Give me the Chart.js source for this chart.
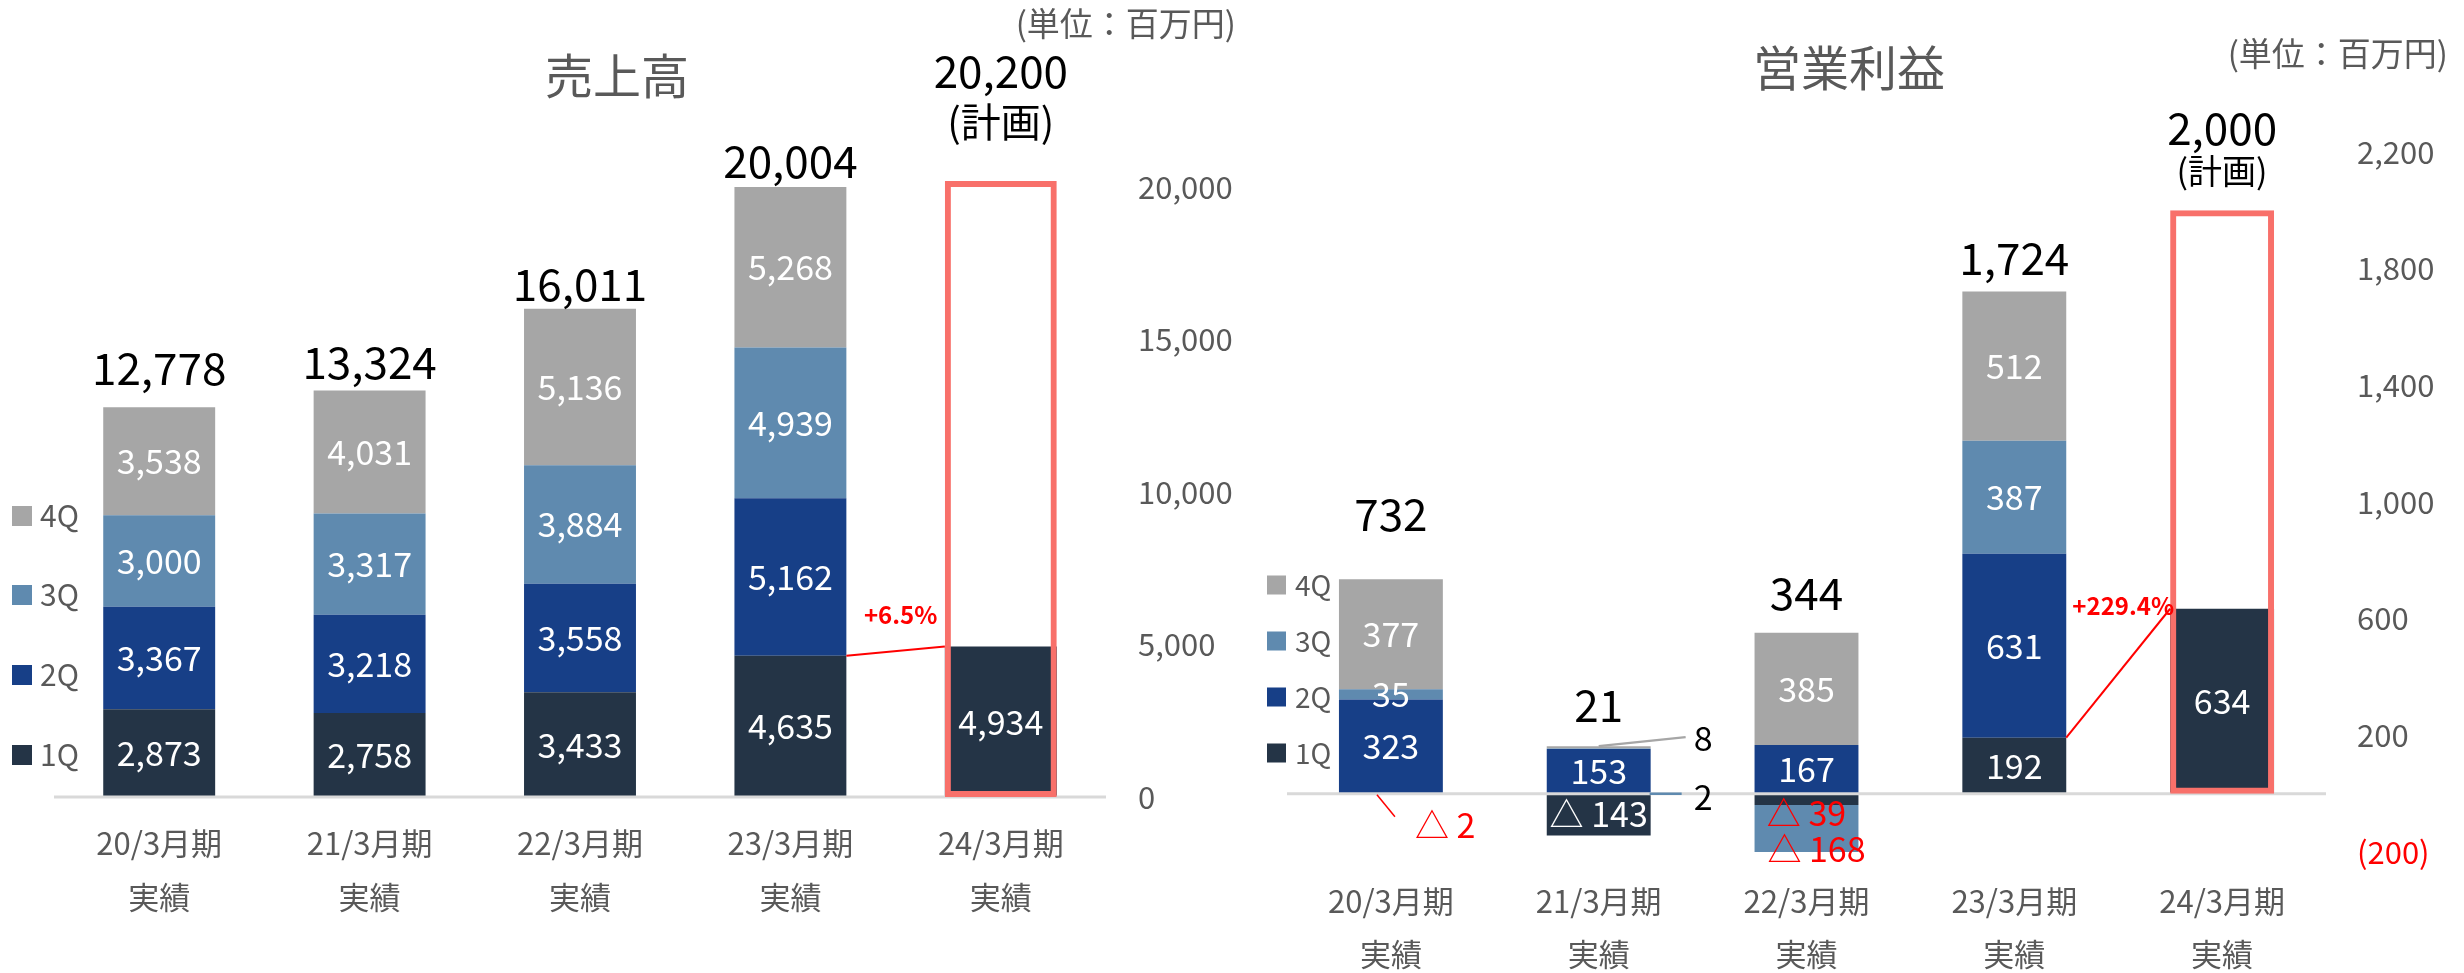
<!DOCTYPE html>
<html>
<head>
<meta charset="utf-8">
<script src="https://cdn.jsdelivr.net/npm/chart.js@4.4.1/dist/chart.umd.min.js"></script>
<style>
  html, body { margin: 0; padding: 0; background: #fff; }
  #wrap { position: relative; width: 2464px; height: 973px; }
  #salesBox { position: absolute; left: 0; top: 0; width: 1250px; height: 973px; }
  #profitBox { position: absolute; left: 1250px; top: 0; width: 1214px; height: 973px; }
</style>
</head>
<body>
<div id="wrap">
  <div id="salesBox"><canvas id="salesChart"></canvas></div>
  <div id="profitBox"><canvas id="profitChart"></canvas></div>
</div>
<script>
// categories
const periods = [["20/3月期", "実績"], ["21/3月期", "実績"], ["22/3月期", "実績"], ["23/3月期", "実績"], ["24/3月期", "実績"]];
const quarterNames = ["1Q", "2Q", "3Q", "4Q"];

// 売上高 (百万円)
const sales1Q = [2873, 2758, 3433, 4635, 4934];
const sales2Q = [3367, 3218, 3558, 5162, null];
const sales3Q = [3000, 3317, 3884, 4939, null];
const sales4Q = [3538, 4031, 5136, 5268, null];
const salesTotal = [12778, 13324, 16011, 20004, null];
const salesPlan = [null, null, null, null, 20200];
const salesTicks = [0, 5000, 10000, 15000, 20000];
const salesGrowth = "+6.5%";

// 営業利益 (百万円)
const profit1Q = [-2, -143, -39, 192, 634];
const profit2Q = [323, 153, 167, 631, null];
const profit3Q = [35, 2, -168, 387, null];
const profit4Q = [377, 8, 385, 512, null];
const profitTotal = [732, 21, 344, 1724, null];
const profitPlan = [null, null, null, null, 2000];
const profitTicks = [-200, 200, 600, 1000, 1400, 1800, 2200];
const profitGrowth = "+229.4%";

const quarterColors = ["#243446", "#173f87", "#5f8aaf", "#a6a6a6"];
const FONT = '"Noto Sans CJK JP", "Liberation Sans", sans-serif';
const GREY_TEXT = "#595959";
const RED = "#ff0000";

function fmt(v) {
  return v < 0 ? "△ " + Math.abs(v).toLocaleString("en-US") : v.toLocaleString("en-US");
}

function text(ctx, str, x, y, font, color, align) {
  ctx.save();
  ctx.font = font;
  ctx.fillStyle = color;
  ctx.textAlign = align || "center";
  ctx.textBaseline = "middle";
  ctx.fillText(str, x, y);
  ctx.restore();
}

function line(ctx, x1, y1, x2, y2, color, w) {
  ctx.save();
  ctx.strokeStyle = color;
  ctx.lineWidth = w;
  ctx.beginPath();
  ctx.moveTo(x1, y1);
  ctx.lineTo(x2, y2);
  ctx.stroke();
  ctx.restore();
}

function makeOverlay(cfg) {
  return {
    id: "overlay",
    afterDatasetDraw(chart, args) {
      // zero line, drawn after the quarter bars but under the plan box
      if (args.index !== 0) return;
      const a = chart.chartArea;
      const y0 = chart.scales.y.getPixelForValue(0);
      line(chart.ctx, a.left, y0, a.right, y0, "#d9d9d9", 3);
    },
    afterDraw(chart) {
      const ctx = chart.ctx;

      // values inside segments
      for (let k = 0; k < 4; k++) {
        const meta = chart.getDatasetMeta(k);
        cfg.quarters[k].forEach((v, i) => {
          if (v === null) return;
          if (cfg.skip.some(s => s[0] === k && s[1] === i)) return;
          const bar = meta.data[i];
          text(ctx, fmt(v), bar.x, (bar.y + bar.base) / 2, "34px " + FONT, "#fff");
        });
      }

      // totals above the stacks
      cfg.totals.forEach((t, i) => {
        if (t === null) return;
        let top = Infinity;
        for (let k = 0; k < 4; k++) {
          if (cfg.quarters[k][i] === null) continue;
          const b = chart.getDatasetMeta(k).data[i];
          top = Math.min(top, b.y, b.base);
        }
        const x = chart.getDatasetMeta(0).data[i].x;
        text(ctx, t.toLocaleString("en-US"), x, top - cfg.totalLift[i], "44px " + FONT, "#000");
      });

      // plan label
      const planMeta = chart.getDatasetMeta(4);
      cfg.plan.forEach((p, i) => {
        if (p === null) return;
        const b = planMeta.data[i];
        text(ctx, p.toLocaleString("en-US"), b.x, b.y - cfg.planLift[0], "44px " + FONT, "#000");
        text(ctx, "(計画)", b.x, b.y - cfg.planLift[1], cfg.planNoteSize + "px " + FONT, "#000");
      });

      // growth connector between the last two 1Q bars
      const m0 = chart.getDatasetMeta(0);
      const b3 = m0.data[3], b4 = m0.data[4];
      const x1 = b3.x + b3.width / 2, x2 = b4.x - b4.width / 2;
      line(ctx, x1, b3.y, x2, b4.y, RED, 2);
      text(ctx, cfg.growth, (x1 + x2) / 2 + cfg.growthPos[0], Math.min(b3.y, b4.y) + cfg.growthPos[1], "bold 24px " + FONT, RED);

      // extra callouts
      cfg.callouts.forEach(fn => fn(chart, ctx));

      // legend
      const L = cfg.legend;
      quarterNames.forEach((q, k) => {
        ctx.fillStyle = quarterColors[k];
        ctx.fillRect(L.x, L.ys[k] - L.size / 2, L.size, L.size);
        text(ctx, q, L.textX, L.ys[k], L.font + "px " + FONT, GREY_TEXT, "left");
      });

      // title and unit
      text(ctx, cfg.title, cfg.titlePos[0], cfg.titlePos[1], "48px " + FONT, GREY_TEXT);
      text(ctx, "(単位：百万円)", cfg.unitPos[0], cfg.unitPos[1], "33px " + FONT, GREY_TEXT, "right");
    }
  };
}

function buildChart(canvasId, cfg) {
  const datasets = quarterNames.map((q, k) => ({
    label: q,
    data: cfg.quarters[k],
    backgroundColor: quarterColors[k],
    borderWidth: 0,
    stack: "q",
    order: 1,
    barPercentage: 1,
    categoryPercentage: cfg.barShare
  }));
  datasets.push({
    label: "計画",
    data: cfg.plan,
    backgroundColor: "rgba(0,0,0,0)",
    borderColor: "#f8706a",
    borderWidth: 6,
    borderSkipped: false,
    stack: "plan",
    grouped: false,
    order: 0,
    barPercentage: 1,
    categoryPercentage: cfg.barShare
  });

  return new Chart(document.getElementById(canvasId), {
    type: "bar",
    data: { labels: periods, datasets: datasets },
    options: {
      responsive: true,
      maintainAspectRatio: false,
      animation: false,
      layout: { padding: { left: cfg.padLeft, top: cfg.padTop, right: 0, bottom: 0 } },
      plugins: { legend: { display: false }, tooltip: { enabled: false } },
      scales: {
        x: {
          stacked: true,
          grid: { display: false, drawTicks: false },
          border: { display: false },
          afterFit: s => { s.height = cfg.xHeight; },
          ticks: {
            padding: cfg.xPad,
            color: GREY_TEXT,
            maxRotation: 0,
            autoSkip: false,
            font: { family: FONT, size: 31, lineHeight: cfg.xLine + "px" }
          }
        },
        y: {
          position: "right",
          stacked: true,
          min: cfg.min,
          max: cfg.max,
          grid: { display: false, drawTicks: false },
          border: { display: false },
          afterBuildTicks: s => { s.ticks = cfg.ticks.map(v => ({ value: v })); },
          afterFit: s => { s.width = cfg.yWidth; },
          ticks: {
            padding: cfg.yPad,
            color: c => (c.tick && c.tick.value < 0 ? RED : GREY_TEXT),
            font: { family: FONT, size: 31 },
            callback: v => (v < 0 ? "(" + Math.abs(v).toLocaleString("en-US") + ")" : v.toLocaleString("en-US"))
          }
        }
      }
    },
    plugins: [makeOverlay(cfg)]
  });
}

buildChart("salesChart", {
  quarters: [sales1Q, sales2Q, sales3Q, sales4Q],
  totals: salesTotal,
  plan: salesPlan,
  ticks: salesTicks,
  growth: salesGrowth,
  min: 0, max: 22000,
  barShare: 0.532,
  padLeft: 54, padTop: 126,
  xHeight: 176, xPad: 19, xLine: 54,
  yWidth: 144, yPad: 32,
  totalLift: [39, 28, 24, 26],
  planLift: [110, 59], planNoteSize: 40,
  growthPos: [5, -32],
  skip: [],
  callouts: [],
  legend: { x: 12, size: 20, textX: 40, ys: [755, 675, 595, 516], font: 30 },
  title: "売上高", titlePos: [617, 76],
  unitPos: [1236, 23]
});

buildChart("profitChart", {
  quarters: [profit1Q, profit2Q, profit3Q, profit4Q],
  totals: profitTotal,
  plan: profitPlan,
  ticks: profitTicks,
  growth: profitGrowth,
  min: -200, max: 2200,
  barShare: 0.5,
  padLeft: 37, padTop: 152,
  xHeight: 121, xPad: 23, xLine: 53,
  yWidth: 138, yPad: 31,
  totalLift: [65, 41, 39, 33],
  planLift: [82, 39], planNoteSize: 34,
  growthPos: [5, -3],
  skip: [[0, 0], [2, 1], [3, 1], [0, 2], [2, 2]],
  callouts: [
    // 20/3 1Q
    (chart, ctx) => {
      const b = chart.getDatasetMeta(0).data[0];
      const y0 = chart.scales.y.getPixelForValue(0);
      const left = b.x - b.width / 2;
      line(ctx, left + 38, y0 + 1, left + 56, y0 + 23, RED, 1.5);
      text(ctx, fmt(profit1Q[0]), left + 76, y0 + 31, "34px " + FONT, RED, "left");
    },
    // 21/3 4Q and 3Q
    (chart, ctx) => {
      const b4 = chart.getDatasetMeta(3).data[1];
      const right = b4.x + b4.width / 2;
      line(ctx, b4.x, b4.y, right + 35, b4.y - 9, "#a6a6a6", 2.5);
      text(ctx, fmt(profit4Q[1]), right + 43, b4.y - 8, "34px " + FONT, "#000", "left");
      const y0 = chart.scales.y.getPixelForValue(0);
      line(ctx, right - 1, y0, right + 31, y0, "#5f8aaf", 2.5);
      text(ctx, fmt(profit3Q[1]), right + 43, y0 + 3, "34px " + FONT, "#000", "left");
    },
    // 22/3 negatives
    (chart, ctx) => {
      const b1 = chart.getDatasetMeta(0).data[2];
      const b3 = chart.getDatasetMeta(2).data[2];
      text(ctx, fmt(profit1Q[2]), b1.x, b1.y + 8, "34px " + FONT, RED);
      text(ctx, fmt(profit3Q[2]), b3.x + 10, b3.y - 5, "34px " + FONT, RED);
    }
  ],
  legend: { x: 17, size: 19, textX: 45, ys: [753, 697, 641, 585], font: 28 },
  title: "営業利益", titlePos: [599, 68],
  unitPos: [1198, 53]
});
</script>
</body>
</html>
